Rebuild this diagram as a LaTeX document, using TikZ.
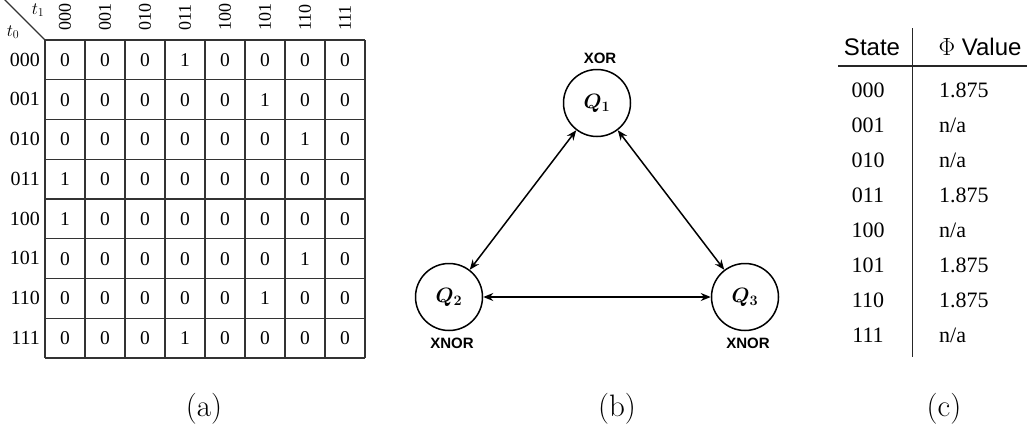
\documentclass[tikz,border=0pt]{standalone}
\usepackage{amsmath}
\usepackage{bm}
\usepackage{fontspec}
\usetikzlibrary{arrows.meta}
\newfontfamily\tabfont{Liberation Serif}
\newfontfamily\sansfont{Liberation Sans}
\tikzset{
  gridline/.style={line width=1.1pt, draw=black!80},
  celltxt/.style={font=\tabfont\fontsize{19.5}{19.5}\selectfont, inner sep=0pt},
  hdrtxt/.style={font=\tabfont\fontsize{18}{18}\selectfont, inner sep=0pt},
  rowtxt/.style={font=\tabfont\fontsize{20}{20}\selectfont, inner sep=0pt},
  qnode/.style={shape=circle, draw=black, line width=1.5pt, minimum size=67pt, inner sep=0pt, font=\fontsize{20}{20}\selectfont},
  gatelbl/.style={font=\sansfont\bfseries\fontsize{15}{15}\selectfont, inner sep=0pt},
  link/.style={line width=1.5pt, {Stealth[length=10pt,width=8pt]}-{Stealth[length=10pt,width=8pt]}},
  captxt/.style={font=\fontsize{31}{31}\selectfont, inner sep=0pt},
  rtxt/.style={font=\tabfont\fontsize{22}{22}\selectfont, inner sep=0pt},
  rhdr/.style={font=\sansfont\fontsize{24}{24}\selectfont, inner sep=0pt},
}
\begin{document}
\begin{tikzpicture}[x=1pt,y=-1pt]
\useasboundingbox (0,0) rectangle (1027,431);
% ---------- (a) transition matrix ----------
\foreach \i in {0,...,8} {
  \draw[gridline] ({45+40*\i},40) -- ({45+40*\i},358);
}
\foreach \j in {0,...,8} {
  \draw[gridline] (45,{40+39.75*\j}) -- (365,{40+39.75*\j});
}
\draw[line width=1.1pt, draw=black!80] (4,-1) -- (45,40);
\node[font=\fontsize{18}{18}\selectfont, inner sep=0pt] (tone) at (38,10) {$t_1$};
\node[font=\fontsize{18}{18}\selectfont, inner sep=0pt] (tzero) at (13,32) {$t_0$};
\foreach \lab [count=\i from 0] in {000,001,010,011,100,101,110,111} {
  \node[hdrtxt, rotate=90, anchor=west] (col\i) at ({65+40*\i},31) {\lab};
  \node[rowtxt, anchor=east] (row\i) at (40,{59.5+39.75*\i}) {\lab};
}
\foreach \rowvals [count=\j from 0] in {{0,0,0,1,0,0,0,0},{0,0,0,0,0,1,0,0},{0,0,0,0,0,0,1,0},{1,0,0,0,0,0,0,0},{1,0,0,0,0,0,0,0},{0,0,0,0,0,0,1,0},{0,0,0,0,0,1,0,0},{0,0,0,1,0,0,0,0}} {
  \foreach \cv [count=\i from 0] in \rowvals {
    \node[celltxt] (c\j-\i) at ({65+40*\i},{60+39.75*\j}) {\cv};
  }
}
\node[captxt] (capa) at (204,409) {(a)};
% ---------- (b) network ----------
\node[qnode] (qa) at (597,103) {$\bm{Q_1}$};
\node[qnode] (qb) at (449,297) {$\bm{Q_2}$};
\node[qnode] (qc) at (745,297) {$\bm{Q_3}$};
\node[gatelbl] (ga) at (600,58) {XOR};
\node[gatelbl] (gb) at (452,343) {XNOR};
\node[gatelbl] (gc) at (748,343) {XNOR};
\draw[link] (qa) -- (qb);
\draw[link] (qa) -- (qc);
\draw[link] (qb) -- (qc);
\node[captxt] (capb) at (617,409) {(b)};
% ---------- (c) phi table ----------
\draw[line width=1.4pt, draw=black!85] (912.7,28) -- (912.7,357);
\draw[line width=1.4pt, draw=black!85] (838,66) -- (1027,66);
\node[rhdr] (hstate) at (872,47) {State};
\node[rhdr] (hphi) at (980,47) {$\Phi$ Value};
\foreach \st [count=\k from 0] in {000,001,010,011,100,101,110,111} {
  \node[rtxt] (s\k) at (868,{90+35*\k}) {\st};
}
\foreach \val [count=\k from 0] in {1.875,n/a,n/a,1.875,n/a,1.875,1.875,n/a} {
  \node[rtxt, anchor=west] (v\k) at (939,{90+35*\k}) {\val};
}
\node[captxt] (capc) at (944,409) {(c)};
\end{tikzpicture}
\end{document}
